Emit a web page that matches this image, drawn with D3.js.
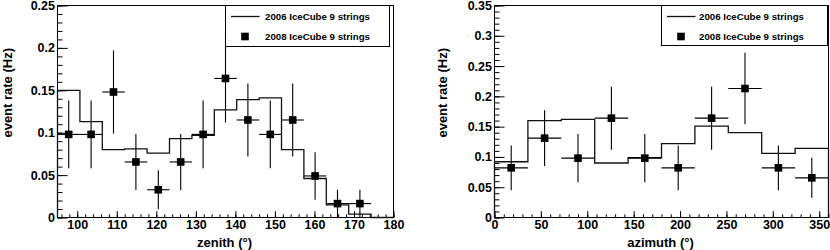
<!DOCTYPE html>
<html>
<head>
<meta charset="utf-8">
<script src="https://cdn.jsdelivr.net/npm/d3@7"></script>
<style>
body { margin: 0; background: #fff; }
svg text { font-family: "Liberation Sans", Arial, Helvetica, sans-serif; fill: #000; }
.tick text { font-size: 12.5px; font-weight: bold; }
.axis-title { font-size: 13px; font-weight: bold; }
.legend-text { font-size: 9.7px; font-weight: bold; }
.hist { fill: none; stroke: #111; stroke-width: 1.3; }
.err { stroke: #000; stroke-width: 1.1; }
</style>
</head>
<body>
<div id="chart"></div>
<script>
// ---- zenith panel ----
const zenithEdges = [95, 100.67, 106.33, 112, 117.67, 123.33, 129, 134.67, 140.33, 146, 151.67, 157.33, 163, 168.67, 174.33, 180];
const zenithRate2006 = [0.150, 0.113, 0.080, 0.081, 0.076, 0.093, 0.097, 0.127, 0.139, 0.141, 0.080, 0.046, 0.015, 0.004, 0];
const zenithRate2008 = [0.098, 0.098, 0.148, 0.0655, 0.0327, 0.0655, 0.098, 0.164, 0.115, 0.098, 0.115, 0.049, 0.0164, 0.0164, null];
const zenithErr2008 = [0.040, 0.040, 0.049, 0.033, 0.023, 0.033, 0.040, 0.052, 0.043, 0.040, 0.043, 0.028, 0.0164, 0.0164, null];
const zenithTicks = [100, 110, 120, 130, 140, 150, 160, 170, 180];
const zenithRateTicks = [0, 0.05, 0.1, 0.15, 0.2, 0.25];

// ---- azimuth panel ----
const azimuthEdges = [0, 36, 72, 108, 144, 180, 216, 252, 288, 324, 360];
const azimuthRate2006 = [0.092, 0.160, 0.162, 0.090, 0.099, 0.122, 0.151, 0.140, 0.106, 0.114];
const azimuthRate2008 = [0.082, 0.131, 0.098, 0.164, 0.098, 0.082, 0.164, 0.213, 0.082, 0.0655];
const azimuthErr2008 = [0.037, 0.046, 0.040, 0.052, 0.040, 0.037, 0.052, 0.059, 0.037, 0.033];
const azimuthTicks = [0, 50, 100, 150, 200, 250, 300, 350];
const azimuthRateTicks = [0, 0.05, 0.1, 0.15, 0.2, 0.25, 0.3, 0.35];

const legendLabels = ["2006 IceCube 9 strings", "2008 IceCube 9 strings"];

const svg = d3.select("#chart").append("svg")
    .attr("width", 830)
    .attr("height", 250);

svg.append("rect").attr("width", 830).attr("height", 250).attr("fill", "#fff");

function RatePanel(opts) {
    let vis = this;
    Object.assign(vis, opts);
    vis.initVis();
}

RatePanel.prototype.initVis = function() {
    let vis = this;
    vis.g = svg.append("g");

    vis.x = d3.scaleLinear().domain(vis.xDomain).range([vis.left, vis.right]);
    vis.y = d3.scaleLinear().domain(vis.yDomain).range([vis.bottom, vis.top]);

    vis.updateVis();
}

RatePanel.prototype.updateVis = function() {
    let vis = this;
    let x = vis.x, y = vis.y;
    let yLen = vis.bottom - vis.top, xLen = vis.right - vis.left;

    // frame
    vis.g.append("rect")
        .attr("x", vis.left).attr("y", vis.top)
        .attr("width", xLen).attr("height", yLen)
        .attr("fill", "none").attr("stroke", "#000").attr("stroke-width", 1);

    // minor ticks (inside)
    vis.g.append("g")
        .attr("transform", "translate(0," + vis.bottom + ")")
        .call(d3.axisBottom(x).tickValues(vis.xMinor).tickSize(-0.015 * yLen).tickFormat(""))
        .call(g => g.select(".domain").remove());
    vis.g.append("g")
        .attr("transform", "translate(" + vis.left + ",0)")
        .call(d3.axisLeft(y).tickValues(vis.yMinor).tickSize(-0.015 * xLen).tickFormat(""))
        .call(g => g.select(".domain").remove());

    // major ticks + labels
    vis.g.append("g")
        .attr("transform", "translate(0," + vis.bottom + ")")
        .call(d3.axisBottom(x).tickValues(vis.xTicks).tickSize(-0.03 * yLen).tickPadding(2).tickFormat(d3.format("d")))
        .call(g => g.select(".domain").remove())
        .call(g => g.selectAll("text").attr("dy", "0.74em"));
    vis.g.append("g")
        .attr("transform", "translate(" + vis.left + ",0)")
        .call(d3.axisLeft(y).tickValues(vis.yTicks).tickSize(-0.03 * xLen).tickPadding(2.5)
            .tickFormat(d => d === 0 ? "0" : String(+d.toFixed(2))))
        .call(g => g.select(".domain").remove());

    vis.g.selectAll(".tick line").attr("stroke", "#000");
    vis.g.selectAll(".tick text").attr("fill", "#000");

    // 2006 histogram outline
    let edges = vis.edges;
    let pts = [[edges[0], 0]];
    vis.hist.forEach((v, i) => {
        pts.push([edges[i], v]);
        pts.push([edges[i + 1], v]);
    });
    pts.push([edges[edges.length - 1], 0]);
    vis.g.append("path")
        .attr("class", "hist")
        .attr("d", d3.line().x(d => x(d[0])).y(d => y(d[1]))(pts));

    // 2008 points with error bars
    let pdata = vis.points.map((v, i) => ({
        lo: edges[i], hi: edges[i + 1], mid: (edges[i] + edges[i + 1]) / 2, v: v, e: vis.errors[i]
    })).filter(d => d.v !== null);

    let pg = vis.g.append("g").selectAll("g").data(pdata).enter().append("g");
    pg.append("line").attr("class", "err")
        .attr("x1", d => x(d.lo)).attr("x2", d => x(d.hi))
        .attr("y1", d => y(d.v)).attr("y2", d => y(d.v));
    pg.append("line").attr("class", "err")
        .attr("x1", d => x(d.mid)).attr("x2", d => x(d.mid))
        .attr("y1", d => y(Math.max(0, d.v - d.e))).attr("y2", d => y(d.v + d.e));
    pg.append("rect")
        .attr("x", d => x(d.mid) - 3.8).attr("y", d => y(d.v) - 3.8)
        .attr("width", 7.6).attr("height", 7.6).attr("fill", "#000");

    // axis titles
    vis.g.append("text")
        .attr("class", "axis-title")
        .attr("x", (vis.left + vis.right) / 2 - 1)
        .attr("y", 247)
        .attr("text-anchor", "middle")
        .text(vis.xTitle);
    vis.g.append("text")
        .attr("class", "axis-title")
        .attr("transform", "translate(" + vis.yTitleX + ",48) rotate(-90)")
        .attr("text-anchor", "end")
        .text("event rate (Hz)");

    // legend
    let L = vis.legend;
    let lg = vis.g.append("g");
    lg.append("rect")
        .attr("x", L.x).attr("y", L.y).attr("width", L.w).attr("height", L.h)
        .attr("fill", "#fff").attr("stroke", "#000").attr("stroke-width", 1);
    lg.append("line")
        .attr("x1", L.x + 5.5).attr("x2", L.x + 34)
        .attr("y1", L.y + 11).attr("y2", L.y + 11)
        .attr("stroke", "#111").attr("stroke-width", 1.3);
    lg.append("rect")
        .attr("x", L.x + 19.5 - 3.8).attr("y", L.y + 31 - 3.8)
        .attr("width", 7.6).attr("height", 7.6).attr("fill", "#000");
    lg.selectAll("text.legend-text").data(legendLabels).enter().append("text")
        .attr("class", "legend-text")
        .attr("x", L.x + L.textOff)
        .attr("y", (d, i) => L.y + 14.8 + i * 20)
        .text(d => d);
}

let zenithPanel = new RatePanel({
    left: 57.5, right: 393.5, top: 5.5, bottom: 217.5,
    xDomain: [95, 180], yDomain: [0, 0.25],
    xTicks: zenithTicks, yTicks: zenithRateTicks,
    xMinor: d3.range(96, 180.01, 2), yMinor: d3.range(0, 0.2501, 0.01),
    edges: zenithEdges, hist: zenithRate2006, points: zenithRate2008, errors: zenithErr2008,
    xTitle: "zenith (°)", yTitleX: 11.5,
    legend: {x: 225.5, y: 5.5, w: 164, h: 41, textOff: 39.5}
});

let azimuthPanel = new RatePanel({
    left: 494.5, right: 828.5, top: 5.5, bottom: 217.5,
    xDomain: [0, 360], yDomain: [0, 0.35],
    xTicks: azimuthTicks, yTicks: azimuthRateTicks,
    xMinor: d3.range(0, 360.01, 10), yMinor: d3.range(0, 0.3501, 0.01),
    edges: azimuthEdges, hist: azimuthRate2006, points: azimuthRate2008, errors: azimuthErr2008,
    xTitle: "azimuth (°)", yTitleX: 446.5,
    legend: {x: 661.5, y: 5.5, w: 166, h: 40, textOff: 37.5}
});
</script>
</body>
</html>
